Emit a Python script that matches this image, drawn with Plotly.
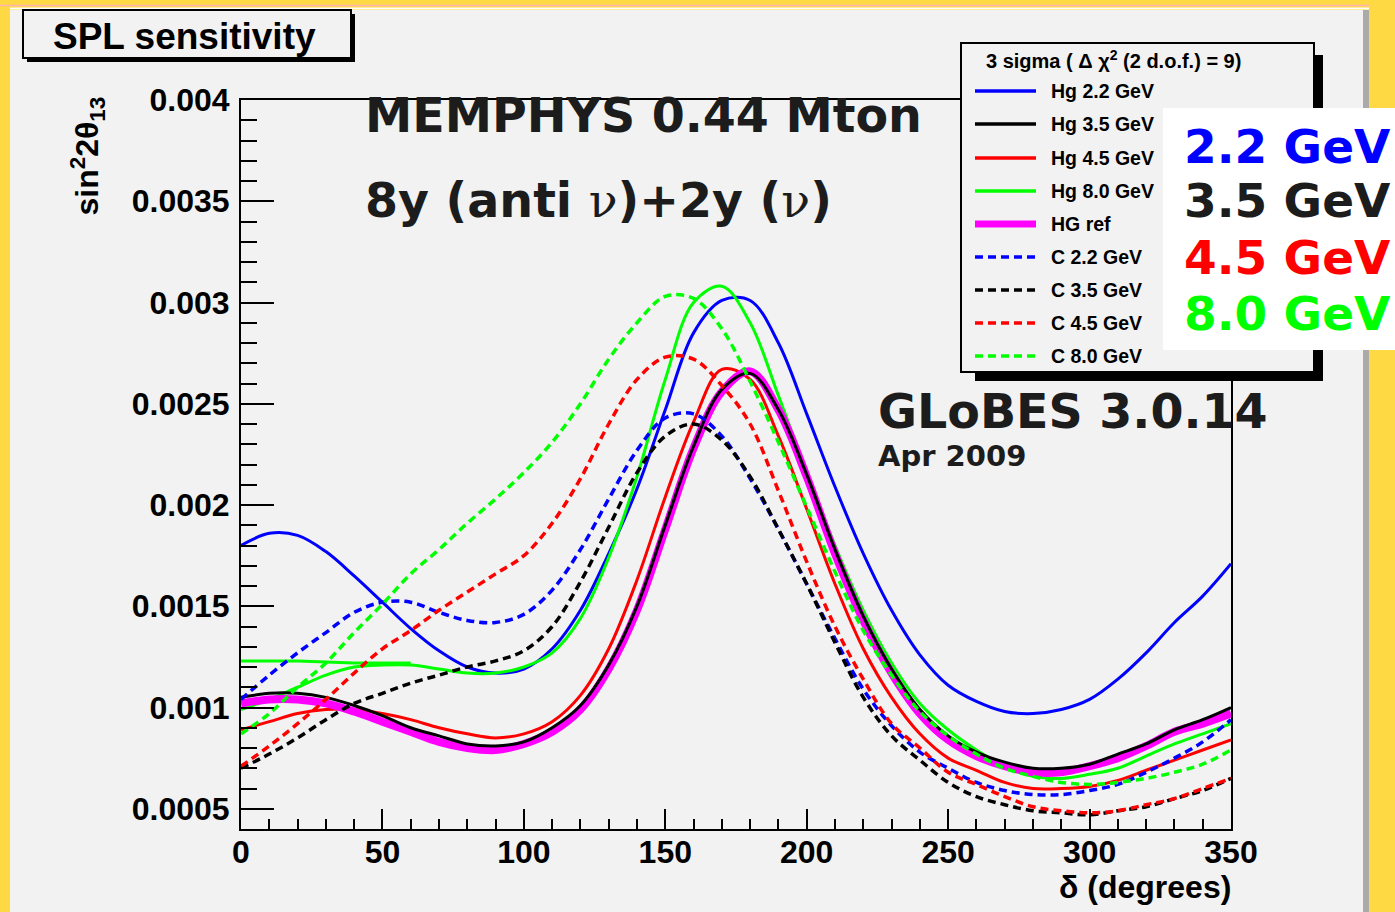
import plotly.graph_objects as go

# ---------------- data ----------------
DELTA = list(range(0, 360, 10))

HG_22 = [0.00180, 0.00186, 0.00185, 0.00177, 0.00165, 0.00152, 0.00139, 0.00128, 0.00120, 0.00117,
         0.00119, 0.00129, 0.00148, 0.00176, 0.00208, 0.00247, 0.00285, 0.00301, 0.00301, 0.00280,
         0.00245, 0.00209, 0.00176, 0.00148, 0.00126, 0.00111, 0.00103, 0.00098, 0.00097, 0.00099,
         0.00104, 0.00114, 0.00127, 0.00142, 0.00155, 0.00171]
HG_35 = [0.00105, 0.00107, 0.00107, 0.00105, 0.00101, 0.00096, 0.00090, 0.00086, 0.00082, 0.00081,
         0.00083, 0.00090, 0.00101, 0.00121, 0.00150, 0.00190, 0.00229, 0.00257, 0.00265, 0.00247,
         0.00215, 0.00178, 0.00145, 0.00119, 0.00099, 0.00086, 0.00078, 0.00073, 0.00070, 0.00070,
         0.00072, 0.00077, 0.00082, 0.00089, 0.00094, 0.00100]
HG_45 = [0.00089, 0.00093, 0.00097, 0.00099, 0.00099, 0.00097, 0.00094, 0.00090, 0.00087, 0.00085,
         0.00087, 0.00093, 0.00106, 0.00129, 0.00163, 0.00204, 0.00241, 0.00267, 0.00262, 0.00234,
         0.00198, 0.00161, 0.00129, 0.00105, 0.00087, 0.00075, 0.00069, 0.00063, 0.00060, 0.00060,
         0.00061, 0.00064, 0.00069, 0.00074, 0.00079, 0.00084]
HG_80 = [0.00099, 0.00104, 0.00110, 0.00116, 0.00120, 0.00121, 0.00121, 0.00119, 0.00117, 0.00117,
         0.00120, 0.00127, 0.00144, 0.00174, 0.00214, 0.00262, 0.00300, 0.00308, 0.00290, 0.00254,
         0.00216, 0.00180, 0.00148, 0.00122, 0.00102, 0.00089, 0.00079, 0.00071, 0.00066, 0.00065,
         0.00067, 0.00070, 0.00076, 0.00082, 0.00087, 0.00092]
HG_80_BRANCH_X = [0, 20, 40, 60]
HG_80_BRANCH_Y = [0.00123, 0.00123, 0.00122, 0.00122]
HG_REF = [0.00102, 0.00104, 0.00104, 0.00102, 0.00098, 0.00093, 0.00088, 0.00083, 0.00080, 0.00079,
          0.00082, 0.00088, 0.00099, 0.00119, 0.00148, 0.00188, 0.00228, 0.00256, 0.00266, 0.00247,
          0.00214, 0.00176, 0.00143, 0.00117, 0.00097, 0.00084, 0.00076, 0.00071, 0.00068, 0.00068,
          0.00071, 0.00075, 0.00081, 0.00088, 0.00092, 0.00097]
C_22 = [0.00104, 0.00116, 0.00127, 0.00137, 0.00147, 0.00152, 0.00152, 0.00147, 0.00143, 0.00142,
        0.00146, 0.00158, 0.00178, 0.00203, 0.00227, 0.00243, 0.00245, 0.00234, 0.00213, 0.00188,
        0.00161, 0.00134, 0.00109, 0.00091, 0.00078, 0.00070, 0.00063, 0.00059, 0.00057, 0.00057,
        0.00059, 0.00062, 0.00068, 0.00075, 0.00083, 0.00094]
C_35 = [0.00070, 0.00077, 0.00085, 0.00094, 0.00102, 0.00107, 0.00112, 0.00116, 0.00120, 0.00123,
        0.00128, 0.00140, 0.00162, 0.00189, 0.00216, 0.00234, 0.00240, 0.00232, 0.00214, 0.00188,
        0.00161, 0.00132, 0.00105, 0.00086, 0.00074, 0.00063, 0.00056, 0.00052, 0.00049, 0.00048,
        0.00047, 0.00049, 0.00051, 0.00055, 0.00059, 0.00065]
C_45 = [0.00071, 0.00081, 0.00092, 0.00104, 0.00117, 0.00129, 0.00138, 0.00148, 0.00157, 0.00166,
        0.00175, 0.00191, 0.00213, 0.00240, 0.00262, 0.00273, 0.00272, 0.00259, 0.00240, 0.00207,
        0.00172, 0.00140, 0.00114, 0.00092, 0.00080, 0.00068, 0.00062, 0.00056, 0.00051, 0.00049,
        0.00048, 0.00049, 0.00052, 0.00055, 0.00060, 0.00065]
C_80 = [0.00087, 0.00097, 0.00110, 0.00122, 0.00137, 0.00151, 0.00166, 0.00178, 0.00191, 0.00203,
        0.00216, 0.00231, 0.00250, 0.00272, 0.00290, 0.00303, 0.00302, 0.00287, 0.00261, 0.00231,
        0.00199, 0.00167, 0.00138, 0.00116, 0.00098, 0.00086, 0.00077, 0.00070, 0.00066, 0.00063,
        0.00062, 0.00063, 0.00065, 0.00068, 0.00072, 0.00079]

X_TICKS = [0, 50, 100, 150, 200, 250, 300, 350]
Y_TICKS = [0.0005, 0.001, 0.0015, 0.002, 0.0025, 0.003, 0.0035, 0.004]
Y_TICK_TEXT = ["0.0005", "0.001", "0.0015", "0.002", "0.0025", "0.003", "0.0035", "0.004"]

LEGEND_HEADER = "3 sigma ( Δ χ<sup>2</sup> (2 d.o.f.) = 9)"
BIG_LABELS = ["2.2 GeV", "3.5 GeV", "4.5 GeV", "8.0 GeV"]
BIG_COLORS = ["#0000ff", "#1c1c1c", "#ff0000", "#00ff00"]

BLUE, BLACK, RED, GREEN, MAGENTA = "#0000ff", "#000000", "#ff0000", "#00ff00", "#ff00ff"

# (name, values, color, width, dash)
SERIES = [
    ("Hg 2.2 GeV", HG_22, BLUE, 3, "solid"),
    ("Hg 3.5 GeV", HG_35, BLACK, 3, "solid"),
    ("Hg 4.5 GeV", HG_45, RED, 3, "solid"),
    ("Hg 8.0 GeV", HG_80, GREEN, 3, "solid"),
    ("HG ref", HG_REF, MAGENTA, 8, "solid"),
    ("C 2.2 GeV", C_22, BLUE, 3.5, "8px,5px"),
    ("C 3.5 GeV", C_35, BLACK, 3.5, "8px,5px"),
    ("C 4.5 GeV", C_45, RED, 3.5, "8px,5px"),
    ("C 8.0 GeV", C_80, GREEN, 3.5, "8px,5px"),
]
DRAW_ORDER = [0, 3, 2, 4, 1, 5, 6, 7, 8]

# ---------------- geometry ----------------
W, H = 1395, 912
L, R, T, B = 241, 1231, 100, 829


def px(x):
    return (x - L) / (R - L)


def py(y):
    return (B - y) / (B - T)


ROOT_FONT = "Liberation Sans, Arial, sans-serif"
BIG_FONT = "DejaVu Sans, sans-serif"

fig = go.Figure()

for i in DRAW_ORDER:
    name, vals, color, width, dash = SERIES[i]
    fig.add_trace(go.Scatter(x=DELTA, y=vals, mode="lines", name=name,
                             line=dict(color=color, width=width, dash=dash, shape="spline", smoothing=1.0),
                             showlegend=False, hoverinfo="skip"))
    if name == "Hg 8.0 GeV":
        fig.add_trace(go.Scatter(x=HG_80_BRANCH_X, y=HG_80_BRANCH_Y, mode="lines", name=name,
                                 line=dict(color=color, width=width), showlegend=False, hoverinfo="skip"))

shapes = []
# canvas panel and frame decorations
shapes.append(dict(type="rect", xref="paper", yref="paper", x0=px(10), x1=px(1363), y0=py(915), y1=py(10),
                   fillcolor="#f2f2f2", line=dict(width=0), layer="below"))
shapes.append(dict(type="rect", xref="paper", yref="paper", x0=px(1363), x1=px(1369), y0=py(915), y1=py(10),
                   fillcolor="#aaaaaa", line=dict(width=0), layer="below"))
shapes.append(dict(type="line", xref="paper", yref="paper", x0=px(0), x1=px(1369), y0=py(5.5), y1=py(5.5),
                   line=dict(color="#ffb3b3", width=1.5), layer="below"))
shapes.append(dict(type="line", xref="paper", yref="paper", x0=px(10), x1=px(1369), y0=py(8.5), y1=py(8.5),
                   line=dict(color="#ffffff", width=2), layer="below"))

# title box
shapes.append(dict(type="rect", xref="paper", yref="paper", x0=px(27), x1=px(355), y0=py(62), y1=py(14),
                   fillcolor="#000000", line=dict(width=0), layer="above"))
shapes.append(dict(type="rect", xref="paper", yref="paper", x0=px(23), x1=px(351), y0=py(58), y1=py(10),
                   fillcolor="#f2f2f2", line=dict(color="#000000", width=2), layer="above"))

# legend box with shadow
shapes.append(dict(type="rect", xref="paper", yref="paper", x0=px(975), x1=px(1323), y0=py(381), y1=py(55),
                   fillcolor="#000000", line=dict(width=0), layer="above"))
shapes.append(dict(type="rect", xref="paper", yref="paper", x0=px(961), x1=px(1314), y0=py(372), y1=py(43),
                   fillcolor="#f2f2f2", line=dict(color="#000000", width=2), layer="above"))

annotations = []


def txt(x, y, s, size, color="#000000", family=ROOT_FONT, xanchor="left", yanchor="middle", angle=0,
        weight="bold"):
    annotations.append(dict(x=px(x), y=py(y), xref="paper", yref="paper", text=s, showarrow=False,
                            xanchor=xanchor, yanchor=yanchor, textangle=angle,
                            font=dict(size=size, color=color, family=family, weight=weight)))


# legend rows
row_y = [91, 124, 158, 191, 224, 257, 290, 323, 356]
txt(984, 60, LEGEND_HEADER, 20)
for (name, vals, color, width, dash), ry in zip(SERIES, row_y):
    lw = 7 if name == "HG ref" else 3.5
    shapes.append(dict(type="line", xref="paper", yref="paper", x0=px(975), x1=px(1036), y0=py(ry), y1=py(ry),
                       line=dict(color=color, width=lw, dash=dash), layer="above"))
    txt(1049, ry, name, 19.5)

# white box with big energy labels
shapes.append(dict(type="rect", xref="paper", yref="paper", x0=px(1163), x1=px(1400), y0=py(350), y1=py(108),
                   fillcolor="#ffffff", line=dict(width=0), layer="above"))
for lab, col, yy in zip(BIG_LABELS, BIG_COLORS, [146, 201, 257, 313]):
    txt(1182, yy, lab, 47, color=col, family=BIG_FONT)

# texts
txt(184, 36, "SPL sensitivity", 37, xanchor="center")
nu = "<span style=\"font-family:'DejaVu Serif';font-weight:normal\">ν</span>"
txt(363, 116, "MEMPHYS 0.44 Mton", 47.5, color="#1c1c1c", family=BIG_FONT)
txt(363, 201, "8y (anti " + nu + ")+2y (" + nu + ")", 47.5, color="#1c1c1c", family=BIG_FONT)
txt(876, 411, "GLoBES 3.0.14", 47.5, color="#1c1c1c", family=BIG_FONT)
txt(876, 456, "Apr 2009", 29, color="#1c1c1c", family=BIG_FONT)
txt(1233, 887, "δ (degrees)", 32, xanchor="right")
txt(87, 95, "sin<sup>2</sup>2θ<sub>13</sub>", 32, xanchor="center", yanchor="top", angle=-90)

fig.update_layout(
    width=W, height=H,
    margin=dict(l=L, r=W - R, t=T, b=H - B, pad=0),
    paper_bgcolor="#ffd943",
    plot_bgcolor="#f2f2f2",
    shapes=shapes,
    annotations=annotations,
    showlegend=False,
)
fig.update_xaxes(range=[0, 350], tickvals=X_TICKS, ticktext=[str(v) for v in X_TICKS],
                 showgrid=False, zeroline=False, showline=True, linecolor="#000000", linewidth=2,
                 mirror=True, ticks="inside", ticklen=20, tickwidth=1.5, tickcolor="#000000",
                 minor=dict(dtick=10, ticks="inside", ticklen=10, tickwidth=1.5, tickcolor="#000000", showgrid=False),
                 tickfont=dict(family=ROOT_FONT, size=32, color="#000000", weight="bold"),
                 ticklabelstandoff=-6)
fig.update_yaxes(range=[0.0004, 0.004], tickvals=Y_TICKS, ticktext=Y_TICK_TEXT,
                 showgrid=False, zeroline=False, showline=True, linecolor="#000000", linewidth=2,
                 mirror=True, ticks="inside", ticklen=33, tickwidth=2, tickcolor="#000000",
                 minor=dict(dtick=0.0001, tick0=0, ticks="inside", ticklen=16, tickwidth=2, tickcolor="#000000",
                            showgrid=False),
                 tickfont=dict(family=ROOT_FONT, size=32, color="#000000", weight="bold"),
                 ticklabelstandoff=3)

fig.write_html("out.html")
